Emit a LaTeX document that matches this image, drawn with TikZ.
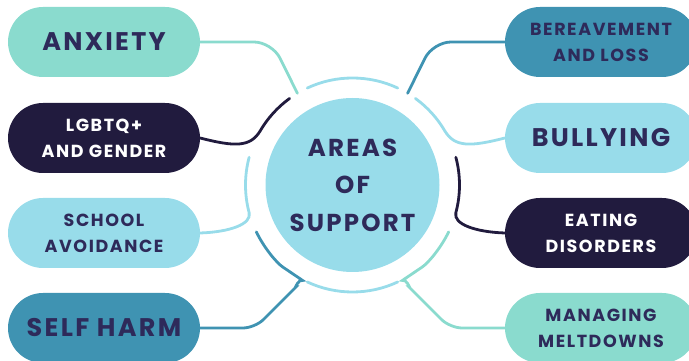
\documentclass[tikz,border=0pt]{standalone}
\usepackage{fontspec}
\setmainfont{Poppins}[LetterSpace=9]
\definecolor{mint}{HTML}{8ADBCE}
\definecolor{sky}{HTML}{98DCEA}
\definecolor{sea}{HTML}{3F93B2}
\definecolor{navy}{HTML}{211B3E}
\definecolor{ink}{HTML}{2E2A5A}
\begin{document}
\begin{tikzpicture}[x=1pt,y=1pt,
pill/.style={rounded corners=35pt, minimum width=192pt, minimum height=70pt, inner sep=0pt, align=center, text=ink, font=\bfseries\fontsize{17.5}{26}\selectfont},
big/.style={font=\bfseries\fontsize{25.5}{30}\selectfont},
link/.style={line width=2.8pt, line cap=round}]
\useasboundingbox (0,0) rectangle (689,361);
\node[circle, fill=sky, minimum size=174pt, inner sep=0pt, align=center, text=ink, font=\bfseries\fontsize{24.5}{37.5}\selectfont] (hub) at (352.5,176){AREAS\\OF\\SUPPORT};
\node[circle, minimum size=214pt, inner sep=0pt, outer sep=0pt] (ring) at (352.5,176){};
\node[pill, big, fill=mint] (anx) at (104,319){ANXIETY};
\node[pill, fill=navy, text=white] (lgb) at (104,223){LGBTQ+\\AND GENDER};
\node[pill, fill=sky] (sch) at (104,128){SCHOOL\\AVOIDANCE};
\node[pill, big, fill=sea] (sh) at (104,33){SELF HARM};
\node[pill, fill=sea] (ber) at (601,319){BEREAVEMENT\\AND LOSS};
\node[pill, big, fill=sky] (bul) at (601,223){BULLYING};
\node[pill, fill=navy, text=white] (eat) at (601,128){EATING\\DISORDERS};
\node[pill, fill=mint] (man) at (601,33){MANAGING\\MELTDOWNS};
\draw[link, sky] (ring.115) arc[start angle=115, end angle=65, radius=107pt];
\draw[link, sky] (ring.245) arc[start angle=245, end angle=295, radius=107pt];
\draw[link, mint, rounded corners=18pt] (anx.east) -- (272,319) -- (ring.121);
\draw[link, sea, rounded corners=18pt] (ber.west) -- (433,319) -- (ring.59);
\draw[link, navy] (lgb.east) .. controls (235,214) and (250,214) .. (ring.150) arc[start angle=150, end angle=126, radius=107pt];
\draw[link, sky] (bul.west) .. controls (470,214) and (455,214) .. (ring.30) arc[start angle=30, end angle=54, radius=107pt];
\draw[link, sky] (sch.east) .. controls (230,129) and (252,137) .. (ring.195) arc[start angle=195, end angle=165, radius=107pt];
\draw[link, navy] (eat.west) .. controls (475,129) and (453,137) .. (ring.345) arc[start angle=-15, end angle=15, radius=107pt];
\draw[link, sea, rounded corners=12pt] (sh.east) -- (255,33) -- (288,66) .. controls (293.7,71.7) and (299.3,82.8) .. (ring.236) arc[start angle=236, end angle=206, radius=107pt];
\draw[link, mint, rounded corners=12pt] (man.west) -- (450,33) -- (417,66) .. controls (411.3,71.7) and (405.7,82.8) .. (ring.304) arc[start angle=304, end angle=334, radius=107pt];
\end{tikzpicture}
\end{document}
